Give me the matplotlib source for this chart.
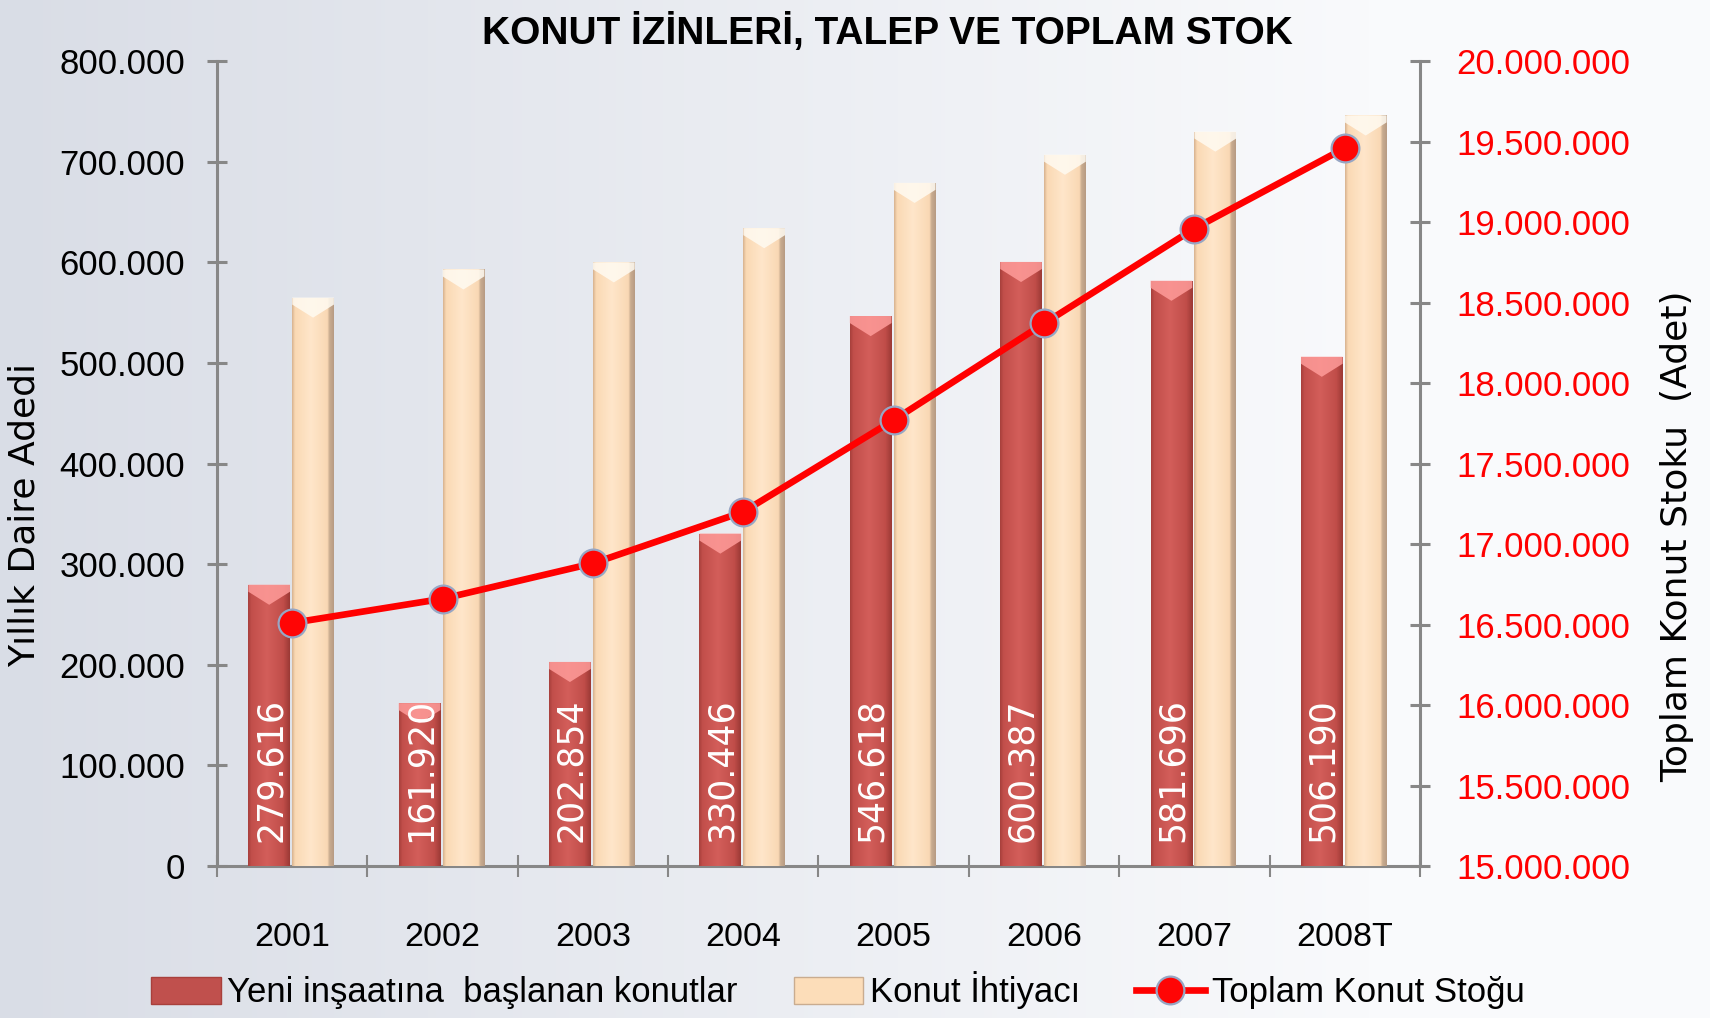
import numpy as np
import matplotlib
matplotlib.use('Agg')
import matplotlib.pyplot as plt
from matplotlib.patches import Patch, Polygon
from matplotlib.lines import Line2D
from matplotlib.ticker import FuncFormatter, FixedLocator

# veriler
years = ['2001', '2002', '2003', '2004', '2005', '2006', '2007', '2008T']
yeni_insaat = [279616, 161920, 202854, 330446, 546618, 600387, 581696, 506190]
konut_ihtiyaci = [565000, 593000, 600000, 634000, 679000, 707000, 730000, 746000]
toplam_stok = [16510000, 16660000, 16880000, 17200000, 17770000, 18370000, 18960000, 19460000]

narrow = ['Liberation Sans', 'DejaVu Sans']
wide = ['DejaVu Sans']

fig = plt.figure(figsize=(17.1, 10.18), dpi=100)

# arka plan gradyani
bg = fig.add_axes([0, 0, 1, 1], zorder=-10)
t = np.linspace(0, 1, 400)
c0 = np.array([217, 221, 230]) / 255
c1 = np.array([249, 250, 252]) / 255
k = np.clip(t / 0.8, 0, 1)[:, None]
grad = (c0 * (1 - k) + c1 * k)[None, :, :]
bg.imshow(grad, aspect='auto', extent=[0, 1, 0, 1])
bg.axis('off')

ax = fig.add_axes([0.1269, 0.1493, 0.7035, 0.7907])
ax.patch.set_alpha(0)
x = np.arange(len(years))
w = 0.277


def bar_gradient(stops, colors, n=64):
    pos = np.linspace(0, 1, n)
    cols = np.array([[int(c[i:i + 2], 16) / 255 for i in (1, 3, 5)] for c in colors])
    arr = np.stack([np.interp(pos, stops, cols[:, j]) for j in range(3)], axis=1)
    return arr[None, :, :]


red_grad = bar_gradient([0, 0.08, 0.45, 0.85, 1],
                        ['#A8403C', '#C24F4B', '#D35E5A', '#C04D49', '#9C3A36'])
beige_grad = bar_gradient([0, 0.07, 0.45, 0.85, 0.9, 1],
                          ['#D9B592', '#FAD9B4', '#FFE6CA', '#F9D8B4', '#C9AC90', '#B89C84'])

bars_red = ax.bar(x - 0.153, yeni_insaat, width=w, color='#C0504D', zorder=2)
bars_beige = ax.bar(x + 0.139, konut_ihtiyaci, width=w, color='#FCDDB9', zorder=2)

cap_h = 20000
for bars, g, capc in [(bars_red, red_grad, '#FF9C9A'), (bars_beige, beige_grad, '#FFFBF2')]:
    for r in bars:
        x0, bw, h = r.get_x(), r.get_width(), r.get_height()
        im = ax.imshow(g, aspect='auto', extent=[x0, x0 + bw, 0, h], zorder=3)
        im.set_clip_path(r)
        cap = Polygon([(x0, h), (x0 + bw, h), (x0 + bw, h - 0.35 * cap_h),
                       (x0 + 0.5 * bw, h - cap_h), (x0, h - 0.35 * cap_h)],
                      closed=True, facecolor=capc, edgecolor='none', alpha=0.85, zorder=4)
        ax.add_patch(cap)

# kirmizi cubuk degerleri
for xi, v in zip(x - 0.153, yeni_insaat):
    ax.annotate(f'{v:,}'.replace(',', '.'), (xi, 0), xytext=(1, 17), textcoords='offset points',
                rotation=90, ha='center', va='bottom', color='white', fontsize=25,
                family=wide, zorder=6)

ax.set_xlim(-0.5, len(years) - 0.5)
ax.set_ylim(0, 800000)
ax.set_yticks(np.arange(0, 800001, 100000))
ax.yaxis.set_major_formatter(FuncFormatter(lambda v, p: f'{v:,.0f}'.replace(',', '.')))
ax.set_xticks(x)
ax.set_xticklabels(years)
ax.xaxis.set_minor_locator(FixedLocator(np.arange(-0.5, len(years), 1.0)))

gray = '#878787'
for s in ['top', 'right']:
    ax.spines[s].set_visible(False)
for s in ['left', 'bottom']:
    ax.spines[s].set_color(gray)
    ax.spines[s].set_linewidth(2.2)
ax.tick_params(axis='y', direction='inout', length=14, width=2.2, color=gray, pad=16,
               labelsize=25)
ax.tick_params(axis='x', which='major', length=0, pad=40, labelsize=24.5)
ax.tick_params(axis='x', which='minor', direction='inout', length=16, width=1.5, color=gray)
for lab in ax.get_yticklabels() + ax.get_xticklabels():
    lab.set_family(narrow)

ax.set_ylabel('Yıllık Daire Adedi', fontsize=26, family=wide)
ax.yaxis.set_label_coords(-0.146, 0.436)

# toplam stok ekseni
ax2 = ax.twinx()
ax2.patch.set_alpha(0)
ax2.plot(x, toplam_stok, color='#FF0000', lw=4.8, marker='o', markersize=20,
         markerfacecolor='#FF0505', markeredgecolor='#97A6C4', markeredgewidth=1.6, zorder=5)
ax2.set_ylim(15000000, 20000000)
ax2.set_yticks(np.arange(15000000, 20000001, 500000))
ax2.yaxis.set_major_formatter(FuncFormatter(lambda v, p: f'{v:,.0f}'.replace(',', '.')))
for s in ['top', 'left', 'bottom']:
    ax2.spines[s].set_visible(False)
ax2.spines['right'].set_color(gray)
ax2.spines['right'].set_linewidth(2.2)
ax2.tick_params(axis='y', direction='inout', length=14, width=2.2, color=gray, pad=19,
                labelsize=25, labelcolor='#FF0000')
for lab in ax2.get_yticklabels():
    lab.set_family(narrow)
ax2.set_ylabel('Toplam Konut Stoku  (Adet)', fontsize=26, family=wide)
ax2.yaxis.set_label_coords(1.200, 0.41)

fig.text(0.519, 0.968, 'KONUT İZİNLERİ, TALEP VE TOPLAM STOK', ha='center', va='center',
         fontsize=28, fontweight='bold', family=narrow)

handles = [Patch(facecolor='#C0504D', edgecolor='#A8403C'),
           Patch(facecolor='#FCDDB9', edgecolor='#C9AC90'),
           Line2D([], [], color='#FF0000', lw=4.8, marker='o', markersize=20,
                  markerfacecolor='#FF0505', markeredgecolor='#97A6C4', markeredgewidth=1.6)]
labels = ['Yeni inşaatına  başlanan konutlar', 'Konut İhtiyacı', 'Toplam Konut Stoğu']
fig.legend(handles, labels, loc='center', bbox_to_anchor=(0.49, 0.027), ncol=3, frameon=False,
           prop={'family': narrow, 'size': 25}, handlelength=2.0, handleheight=0.8,
           handletextpad=0.2, columnspacing=1.6, borderpad=0)

fig.savefig('out.png', dpi=100)
